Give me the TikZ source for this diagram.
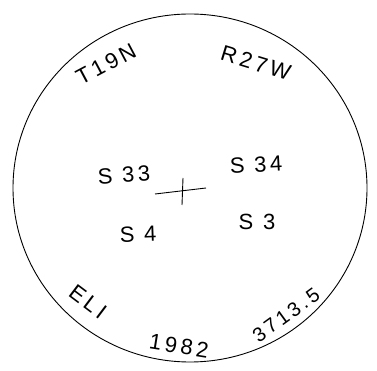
\documentclass[tikz,border=0pt]{standalone}
\usepackage{fontspec}
\newfontfamily\hand[LetterSpace=16]{Liberation Sans}
\usetikzlibrary{positioning}

\begin{document}
\begin{tikzpicture}[
    x=1pt, y=-1pt,
    label/.style={font=\hand\fontsize{22}{22}\selectfont, inner sep=0pt},
    pen/.style={line width=0.9pt}
  ]
  \useasboundingbox (0,0) rectangle (377,371);

  % Outline
  \draw[pen] (190,188) ellipse [x radius=177, y radius=174];

  % Township and range
  \node[label, rotate=28] (twp) at (106,64) {T19N};
  \node[label, rotate=-17] (rng) at (256,63) {R27W};

  % Sections
  \node[label, rotate=4] (s33) at (124,175) {S 33};
  \node[label, rotate=3] (s34) at (256,165) {S 34};
  \node[label, rotate=2] (s4) at (138,234) {S 4};
  \node[label] (s3) at (257,222) {S 3};

  % Corner mark
  \coordinate (cw) at (155,194);
  \coordinate (ce) at (206,188);
  \coordinate (cn) at (183,178);
  \coordinate (cs) at (182,205);
  \draw[pen] (cw) -- (ce);
  \draw[pen] (cn) -- (cs);

  % Bottom notes
  \node[label, rotate=-37] (eli) at (88,302) {ELI};
  \node[label, rotate=-9] (year) at (179,346) {1982};
  \node[label, rotate=36, font=\hand\fontsize{20}{20}\selectfont] (num) at (286,315) {3713.5};
\end{tikzpicture}
\end{document}
